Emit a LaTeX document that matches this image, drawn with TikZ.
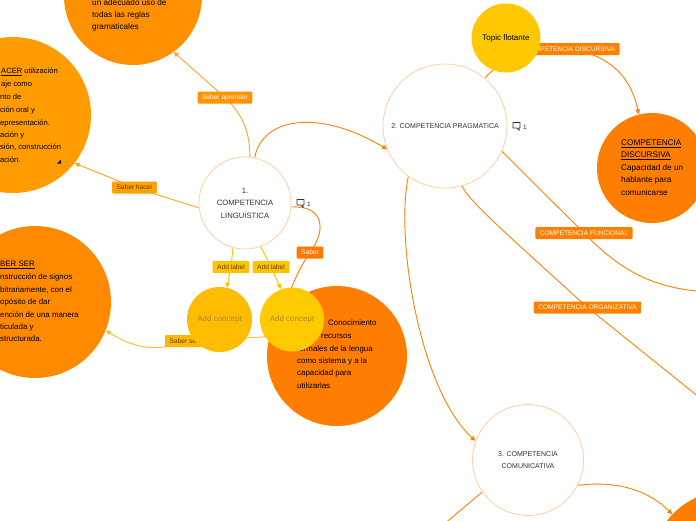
\documentclass[tikz,border=0pt]{standalone}
\usepackage{fontspec}
\setmainfont{Liberation Sans}
\usetikzlibrary{arrows.meta}
\pgfdeclarelayer{paper}
\pgfdeclarelayer{bg}
\pgfsetlayers{paper,bg,main}
\definecolor{cTop}{HTML}{FF9100}
\definecolor{cHac}{HTML}{FF9C00}
\definecolor{cSer}{HTML}{FF8A00}
\definecolor{cCon}{HTML}{FF7D00}
\definecolor{cDis}{HTML}{FF7D00}
\definecolor{cTopic}{HTML}{FFC800}
\definecolor{cAcA}{HTML}{FFBC00}
\definecolor{cAcB}{HTML}{FFCB00}
\definecolor{cBorder}{HTML}{FFCFA3}
\definecolor{cMain}{HTML}{FF8000}
\definecolor{cApr}{HTML}{FFA033}
\definecolor{cHacL}{HTML}{FFA41A}
\definecolor{cSerL}{HTML}{FFBA2E}
\definecolor{cAddL}{HTML}{FFC100}
\definecolor{cSabL}{HTML}{FF7A00}
\definecolor{cLApr}{HTML}{FF9300}
\definecolor{cLHac}{HTML}{FFA100}
\definecolor{cLSer}{HTML}{FFB700}
\definecolor{cLAdd}{HTML}{FFC200}
\definecolor{cLSab}{HTML}{FF7800}
\definecolor{cDarkTxt}{HTML}{5C4300}
\definecolor{cAcTxt}{HTML}{A68A2E}
\definecolor{cNodeTxt}{HTML}{333333}
\begin{document}
\begin{tikzpicture}[x=1pt,y=-1pt,
  conn/.style={line width=0.9pt, draw=cMain},
  arr/.style={-{Triangle[length=5pt,width=4.5pt]}},
  bubble/.style={circle, inner sep=0pt, draw=none},
  topicnode/.style={circle, inner sep=0pt, draw=cBorder, line width=0.8pt, fill=white,
    font=\fontsize{7}{12.5}\selectfont, align=center, text=cNodeTxt},
  lbl/.style={rectangle, rounded corners=1pt, inner xsep=4.5pt, inner ysep=0pt,
    minimum height=12pt, font=\fontsize{6.6}{8}\selectfont},
  btxt/.style={anchor=west, inner sep=0pt, font=\fontsize{7.9}{9}\selectfont, text=black},
  btxtl/.style={btxt, font=\fontsize{8.2}{9}\selectfont},
  cmt/.style={line width=0.6pt, draw=cNodeTxt, line join=round},
  cmtnum/.style={anchor=west, inner sep=0pt, font=\fontsize{6.5}{8}\selectfont, text=cNodeTxt}
]
\useasboundingbox (0,0) rectangle (696,520);
\begin{pgfonlayer}{paper}
\fill[white] (0,0) rectangle (696,520);
\end{pgfonlayer}

% big coloured circles
\node[bubble, fill=cTop, minimum size=138pt] (top) at (133,-4) {};
\node[bubble, fill=cHac, minimum size=156pt] (hacer) at (13,115) {};
\node[bubble, fill=cSer, minimum size=152pt] (ser) at (35,302) {};
\node[bubble, fill=cCon, minimum size=140pt] (conoc) at (337,356) {};
\node[bubble, fill=cDis, minimum size=110pt] (discur) at (652,168) {};
\node[bubble, fill=cDis, minimum size=160pt] (br) at (730,570) {};

% main topics
\node[topicnode, minimum size=92pt, font=\fontsize{7.7}{12.5}\selectfont] (n1) at (245,203) {1.\\COMPETENCIA\\LINGUISTICA};
\node[topicnode, minimum size=124pt] (n2) at (445,126) {2. COMPETENCIA PRAGMATICA};
\node[topicnode, minimum size=111pt] (n3) at (528,460) {3. COMPETENCIA\\COMUNICATIVA};

% texts in coloured circles
\node[btxtl] (ta1) at (92,3) {un adecuado uso de};
\node[btxtl] (ta2) at (92,15) {todas las reglas};
\node[btxtl] (ta3) at (92,27) {gramaticales};

\node[btxt, font=\fontsize{7.6}{9}\selectfont] (th1) at (1,72) {\underline{ACER} utilización};
\node[btxt, font=\fontsize{7.6}{9}\selectfont] (th2) at (1,85) {aje como};
\node[btxt, font=\fontsize{7.6}{9}\selectfont] (th3) at (0,97) {nto de};
\node[btxt, font=\fontsize{7.6}{9}\selectfont] (th4) at (0,110) {ción oral y};
\node[btxt, font=\fontsize{7.6}{9}\selectfont] (th5) at (0,123) {epresentación.};
\node[btxt, font=\fontsize{7.6}{9}\selectfont] (th6) at (0,135) {ación y};
\node[btxt, font=\fontsize{7.6}{9}\selectfont] (th7) at (0,147) {sión, construcción};
\node[btxt, font=\fontsize{7.6}{9}\selectfont] (th8) at (0,160) {ación.};
\fill[black] (61,159.5) -- (61,163.5) -- (57,163.5) -- cycle;

\node[btxt] (ts1) at (0,265) {\underline{BER SER}};
\node[btxt] (ts2) at (0,277) {nstrucción de signos};
\node[btxt] (ts3) at (0,290) {bitrariamente, con el};
\node[btxt] (ts4) at (0,302) {opósito de dar};
\node[btxt] (ts5) at (0,315) {ención de una manera};
\node[btxt] (ts6) at (0,327) {ticulada y};
\node[btxt] (ts7) at (0,339) {structurada.};

\node[btxt] (tc1) at (328,323) {Conocimiento};
\node[btxt] (tc2) at (321,336) {recursos};
\node[btxt] (tc3) at (297,349) {formales de la lengua};
\node[btxt] (tc4) at (297,361) {como sistema y a la};
\node[btxt] (tc5) at (297,373) {capacidad para};
\node[btxt] (tc6) at (297,386) {utilizarlas};

\node[btxtl] (td1) at (621,144) {\underline{COMPETENCIA}};
\node[btxtl] (td2) at (621,156) {\underline{DISCURSIVA}};
\node[btxtl] (td3) at (621,168) {Capacidad de un};
\node[btxtl] (td4) at (621,180.5) {hablante para};
\node[btxtl] (td5) at (621,193) {comunicarse};

% connector labels
\node[lbl, fill=cLApr, text=white] (la) at (225,97.5) {Saber aprender};
\node[lbl, fill=cLHac, text=cDarkTxt] (lh) at (134.5,187.5) {Saber hacer};
\node[lbl, fill=cLSer, text=cDarkTxt] (ls) at (184,341) {Saber ser};
\node[lbl, fill=cLAdd, text=cDarkTxt] (ladda) at (231,267) {Add label};
\node[lbl, fill=cLAdd, text=cDarkTxt] (laddb) at (271,267) {Add label};
\node[lbl, fill=cLSab, text=white] (lsb) at (310,252.5) {Saber};
\node[lbl, fill=cMain, text=white] (ldis) at (570,49) {COMPETENCIA DISCURSIVA};
\node[lbl, fill=cMain, text=white] (lfun) at (584,233) {COMPETENCIA FUNCIONAL};
\node[lbl, fill=cMain, text=white] (lorg) at (587.5,307.5) {COMPETENCIA ORGANIZATIVA};

% floating and yellow circles on top
\node[bubble, fill=cTopic, minimum size=69pt, font=\fontsize{8}{9}\selectfont, text=black] (topic) at (506,38) {Topic flotante};
\node[bubble, fill=cAcA, minimum size=65pt, font=\fontsize{8}{9}\selectfont, text=cAcTxt] (aca) at (219.5,319.5) {Add concept};
\node[bubble, fill=cAcB, minimum size=64pt, font=\fontsize{8}{9}\selectfont, text=cAcTxt] (acb) at (292,319.5) {Add concept};

% comment icons
\draw[cmt] (297,199.5) -- (304,199.5) -- (304,205) -- (302.5,205) -- (303.5,207.5) -- (300.5,205) -- (297,205) -- cycle;
\node[cmtnum] (c1) at (307,204) {1};
\draw[cmt] (513,122.5) -- (520,122.5) -- (520,128) -- (518.5,128) -- (519.5,130.5) -- (516.5,128) -- (513,128) -- cycle;
\node[cmtnum] (c2) at (523,127) {1};

% connectors
\coordinate (fr) at (720,292);
\coordinate (fo) at (720,414);
\coordinate (fbl) at (425,540);
\begin{pgfonlayer}{bg}
\draw[conn, draw=cApr, arr] (n1.84) .. controls (250,128) and (240,112) .. (la.center) -- (top.306);
\draw[conn, draw=cHacL, arr] (n1.186) -- (lh.center) -- (hacer.322);
\draw[conn, draw=cSerL, arr] (conoc.164) -- (ls.center) .. controls (150,356) and (125,342) .. (ser.338);
\draw[conn, draw=cAddL, arr] (n1.255) -- (ladda.center) -- (aca.77);
\draw[conn, draw=cAddL, arr] (n1.290) -- (laddb.center) -- (acb.110);
\draw[conn, draw=cSabL, arr] (n1.355) .. controls (322,205) and (328,228) .. (lsb.center) .. controls (298,270) and (290,290) .. (conoc.140);
\draw[conn, arr] (n1.78) .. controls (262,118) and (318,108) .. (n2.202);
\draw[conn, arr] (n2.50) .. controls (495,65) and (520,50) .. (ldis.center) .. controls (612,55) and (632,80) .. (discur.104);
\draw[conn] (n2.336) -- (lfun.center) .. controls (620,270) and (655,292) .. (fr);
\draw[conn] (n2.286) .. controls (468,200) and (500,228) .. (lorg.center) -- (fo);
\draw[conn, arr] (n2.234) .. controls (395,240) and (420,390) .. (n3.160);
\draw[conn] (n3.215) -- (fbl);
\draw[conn, arr] (n3.333) .. controls (620,480) and (650,492) .. (br.136);
\end{pgfonlayer}
\end{tikzpicture}
\end{document}
